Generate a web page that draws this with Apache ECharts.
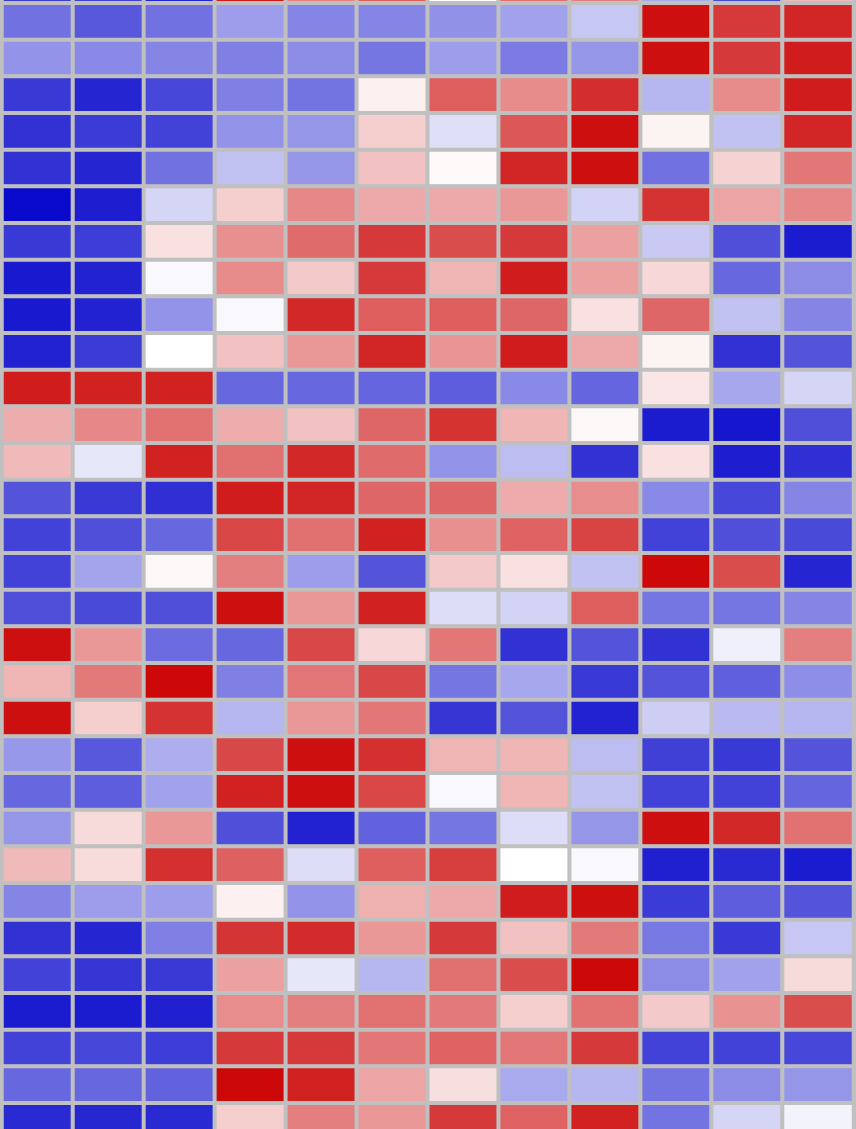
<!DOCTYPE html>
<html>
<head>
<meta charset="utf-8">
<script src="https://cdn.jsdelivr.net/npm/echarts@6/dist/echarts.min.js"></script>
<style>
html,body{margin:0;padding:0;background:#c0c0c0;overflow:hidden;width:856px;height:1129px;}
#wrap{position:relative;width:856px;height:1129px;overflow:hidden;}
#chart{position:absolute;left:0;top:-34px;width:856px;height:1176px;}
</style>
</head>
<body>
<div id="wrap"><div id="chart"></div></div>
<script>
const colNames = ['C1','C2','C3','C4','C5','C6','C7','C8','C9','C10','C11','C12'];
const rowNames = ['R1','R2','R3','R4','R5','R6','R7','R8','R9','R10','R11','R12','R13','R14','R15','R16',
                  'R17','R18','R19','R20','R21','R22','R23','R24','R25','R26','R27','R28','R29','R30','R31','R32'];
const cellValues = [
  [-0.80,-0.78,-0.89, 0.92, 0.52, 0.65, 0.00, 0.58, 0.52,-0.35,-0.75, 0.28],
  [-0.58,-0.68,-0.58,-0.40,-0.50,-0.50,-0.45,-0.38,-0.23, 0.97, 0.80, 0.88],
  [-0.44,-0.48,-0.50,-0.52,-0.47,-0.56,-0.40,-0.54,-0.43, 0.97, 0.80, 0.92],
  [-0.81,-0.89,-0.75,-0.52,-0.57, 0.06, 0.65, 0.47, 0.85,-0.30, 0.47, 0.92],
  [-0.84,-0.80,-0.77,-0.44,-0.43, 0.20,-0.13, 0.68, 0.97, 0.05,-0.25, 0.88],
  [-0.84,-0.89,-0.58,-0.25,-0.43, 0.25, 0.02, 0.88, 0.97,-0.58, 0.18, 0.55],
  [-1.00,-0.92,-0.17, 0.20, 0.48, 0.35, 0.35, 0.42,-0.18, 0.83, 0.37, 0.48],
  [-0.81,-0.79, 0.12, 0.45, 0.60, 0.80, 0.72, 0.80, 0.38,-0.22,-0.72,-0.93],
  [-0.94,-0.90,-0.03, 0.47, 0.22, 0.80, 0.30, 0.92, 0.38, 0.16,-0.62,-0.47],
  [-0.94,-0.90,-0.44,-0.03, 0.87, 0.65, 0.65, 0.62, 0.12, 0.62,-0.25,-0.50],
  [-0.90,-0.80, 0.00, 0.25, 0.42, 0.88, 0.43, 0.92, 0.35, 0.05,-0.84,-0.70],
  [ 0.92, 0.90, 0.90,-0.62,-0.62,-0.63,-0.66,-0.48,-0.63, 0.10,-0.36,-0.17],
  [ 0.33, 0.48, 0.57, 0.33, 0.25, 0.62, 0.83, 0.30, 0.03,-0.93,-0.95,-0.72],
  [ 0.28,-0.10, 0.90, 0.58, 0.87, 0.60,-0.44,-0.27,-0.84, 0.12,-0.92,-0.85],
  [-0.70,-0.81,-0.85, 0.92, 0.88, 0.62, 0.62, 0.34, 0.46,-0.48,-0.75,-0.50],
  [-0.77,-0.72,-0.62, 0.75, 0.58, 0.90, 0.45, 0.63, 0.76,-0.77,-0.72,-0.74],
  [-0.77,-0.37, 0.03, 0.52,-0.40,-0.70, 0.22, 0.12,-0.25, 1.00, 0.72,-0.89],
  [-0.72,-0.74,-0.72, 0.97, 0.42, 0.90,-0.14,-0.18, 0.65,-0.56,-0.56,-0.50],
  [ 0.97, 0.42,-0.60,-0.62, 0.74, 0.16, 0.55,-0.84,-0.70,-0.84,-0.06, 0.52],
  [ 0.30, 0.54, 1.00,-0.52, 0.56, 0.74,-0.56,-0.36,-0.81,-0.70,-0.65,-0.46],
  [ 0.97, 0.20, 0.83,-0.30, 0.42, 0.55,-0.82,-0.70,-0.90,-0.20,-0.28,-0.30],
  [-0.42,-0.68,-0.33, 0.74, 0.97, 0.84, 0.30, 0.30,-0.27,-0.78,-0.81,-0.70],
  [-0.62,-0.66,-0.38, 0.90, 0.97, 0.75,-0.03, 0.30,-0.25,-0.77,-0.77,-0.63],
  [-0.43, 0.15, 0.42,-0.72,-0.90,-0.64,-0.56,-0.14,-0.43, 0.97, 0.87, 0.57],
  [ 0.28, 0.14, 0.84, 0.64,-0.14, 0.65, 0.78, 0.00,-0.03,-0.91,-0.87,-0.93],
  [-0.50,-0.40,-0.40, 0.06,-0.44, 0.32, 0.35, 0.92, 0.97,-0.80,-0.66,-0.70],
  [-0.84,-0.89,-0.52, 0.82, 0.86, 0.42, 0.80, 0.25, 0.54,-0.55,-0.81,-0.23],
  [-0.77,-0.82,-0.81, 0.38,-0.10,-0.30, 0.58, 0.72, 1.00,-0.47,-0.38, 0.15],
  [-0.93,-0.93,-0.91, 0.46, 0.52, 0.57, 0.54, 0.20, 0.57, 0.22, 0.44, 0.72],
  [-0.77,-0.75,-0.79, 0.80, 0.80, 0.55, 0.63, 0.55, 0.80,-0.77,-0.77,-0.75],
  [-0.62,-0.62,-0.64, 1.00, 0.90, 0.37, 0.13,-0.35,-0.30,-0.57,-0.47,-0.43],
  [-0.87,-0.88,-0.87, 0.20, 0.52, 0.42, 0.80, 0.63, 0.90,-0.57,-0.17,-0.05]
];

const heatData = [];
cellValues.forEach(function (row, r) {
  row.forEach(function (v, c) { heatData.push([c, r, v]); });
});

const chart = echarts.init(document.getElementById('chart'), null, {renderer: 'canvas'});
chart.setOption({
  animation: false,
  backgroundColor: '#c0c0c0',
  grid: { left: 2, right: 2.5, top: 0.6, height: 1173.3, containLabel: false },
  xAxis: { type: 'category', data: colNames, show: false, splitArea: { show: false } },
  yAxis: { type: 'category', data: rowNames, inverse: true, show: false, splitArea: { show: false } },
  visualMap: {
    show: false, min: -1, max: 1, calculable: false,
    inRange: { color: ['#0a0acc', '#ffffff', '#cc0808'] }
  },
  series: [{
    type: 'heatmap',
    data: heatData,
    itemStyle: { borderColor: '#c0c0c0', borderWidth: 4 },
    emphasis: { disabled: true },
    label: { show: false }
  }]
});
</script>
</body>
</html>
